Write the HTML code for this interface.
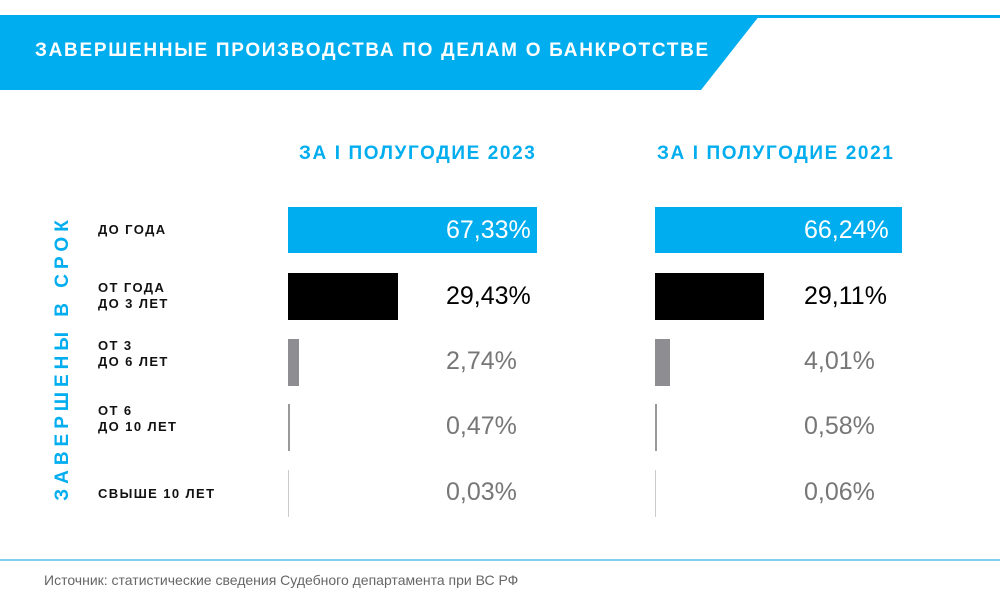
<!DOCTYPE html><html><head><meta charset="utf-8"><style>
body{margin:0;width:1000px;height:600px;background:#fff;font-family:"Liberation Sans",sans-serif;position:relative;overflow:hidden}
div{position:absolute}
.lab{left:98px;font-size:13px;font-weight:bold;color:#111;line-height:16px;letter-spacing:1.4px}
.v{font-size:25px;color:#777}
.h{font-size:19px;font-weight:bold;color:#00adee;letter-spacing:1.6px}
</style></head><body>
<svg style="position:absolute;left:0;top:0" width="1000" height="100"><rect x="0" y="15" width="1000" height="3" fill="#00adee"/><polygon points="0,15 760,15 701,90 0,90" fill="#00adee"/></svg>
<div style="left:35px;top:40px;font-size:19px;font-weight:bold;color:#fff;letter-spacing:1.7px">ЗАВЕРШЕННЫЕ ПРОИЗВОДСТВА ПО ДЕЛАМ О БАНКРОТСТВЕ</div>
<div class="h" style="left:299px;top:143px">ЗА I ПОЛУГОДИЕ 2023</div>
<div class="h" style="left:657px;top:143px">ЗА I ПОЛУГОДИЕ 2021</div>
<div style="left:63px;top:358px;transform:translate(-50%,-50%) rotate(-90deg);white-space:nowrap;font-size:19px;font-weight:bold;color:#00adee;letter-spacing:5px">ЗАВЕРШЕНЫ В СРОК</div>
<div class="lab" style="top:222px">ДО ГОДА</div>
<div class="lab" style="top:280px">ОТ ГОДА<br>ДО 3 ЛЕТ</div>
<div class="lab" style="top:338px">ОТ 3<br>ДО 6 ЛЕТ</div>
<div class="lab" style="top:403px">ОТ 6<br>ДО 10 ЛЕТ</div>
<div class="lab" style="top:486px">СВЫШЕ 10 ЛЕТ</div>
<div style="left:288px;top:207px;width:249px;height:46px;background:#00adee"></div>
<div style="left:288px;top:273px;width:110px;height:47px;background:#000"></div>
<div style="left:288px;top:339px;width:11px;height:47px;background:#8e8e92"></div>
<div style="left:288px;top:404px;width:2px;height:47px;background:#999"></div>
<div style="left:288px;top:470px;width:1px;height:47px;background:#ccc"></div>
<div style="left:655px;top:207px;width:247px;height:46px;background:#00adee"></div>
<div style="left:655px;top:273px;width:109px;height:47px;background:#000"></div>
<div style="left:655px;top:339px;width:15px;height:47px;background:#8e8e92"></div>
<div style="left:655px;top:404px;width:2px;height:47px;background:#999"></div>
<div style="left:655px;top:470px;width:1px;height:47px;background:#ccc"></div>
<div class="v" style="left:446px;top:216px;color:#fff">67,33%</div>
<div class="v" style="left:446px;top:282px;color:#000">29,43%</div>
<div class="v" style="left:446px;top:347px">2,74%</div>
<div class="v" style="left:446px;top:412px">0,47%</div>
<div class="v" style="left:446px;top:478px">0,03%</div>
<div class="v" style="left:804px;top:216px;color:#fff">66,24%</div>
<div class="v" style="left:804px;top:282px;color:#000">29,11%</div>
<div class="v" style="left:804px;top:347px">4,01%</div>
<div class="v" style="left:804px;top:412px">0,58%</div>
<div class="v" style="left:804px;top:478px">0,06%</div>
<div style="left:0;top:559px;width:1000px;height:2px;background:#7fd0f0"></div>
<div style="left:44px;top:572px;font-size:14px;color:#666">Источник: статистические сведения Судебного департамента при ВС РФ</div>
</body></html>
